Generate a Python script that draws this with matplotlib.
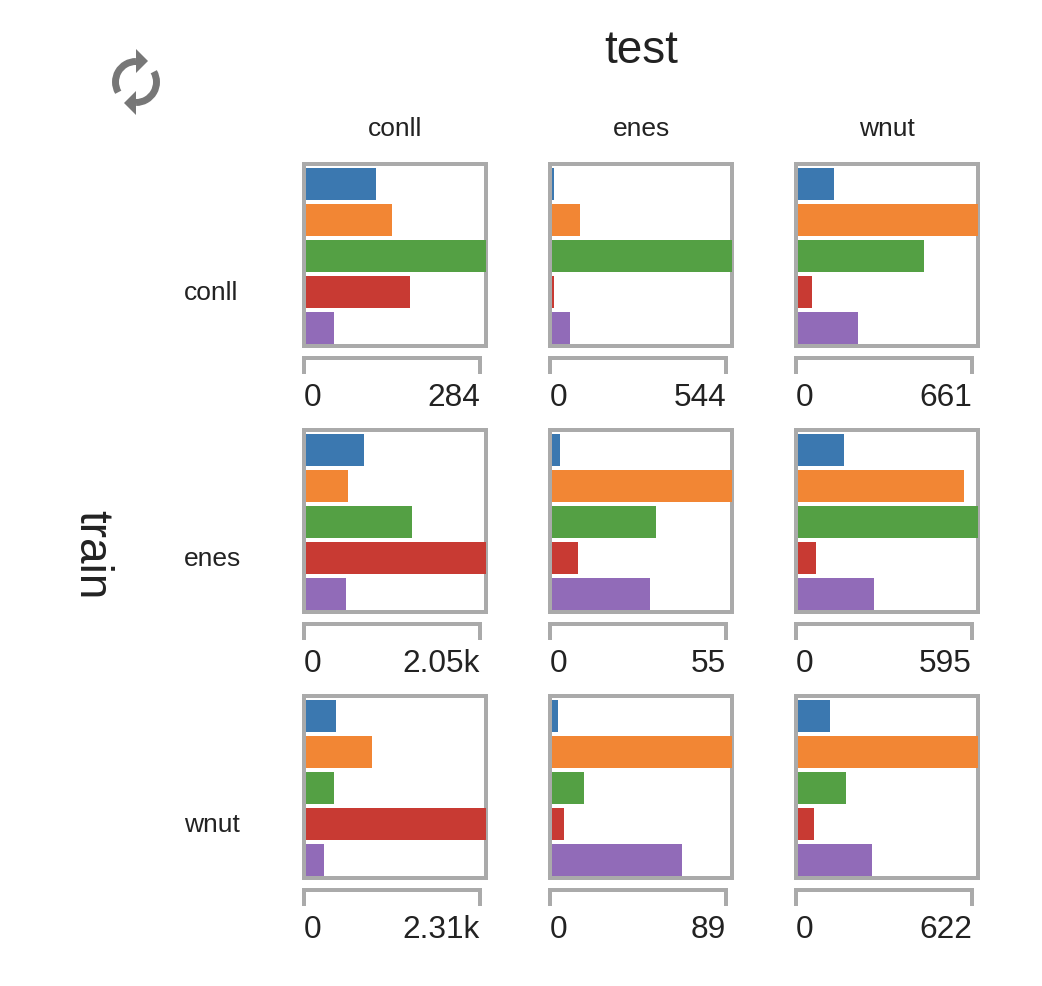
import matplotlib
matplotlib.use('Agg')
import matplotlib.pyplot as plt
from matplotlib.patches import Arc, Polygon

plt.rcParams['font.family'] = ['Liberation Sans', 'DejaVu Sans']

W, H = 1042, 986
TEXT = '#222222'
GRAY = '#aaaaaa'
ICON = '#777777'
COLORS = ['#3b78b0', '#f28634', '#54a044', '#c83a33', '#916bb8']

train_names = ['conll', 'enes', 'wnut']
test_names = ['conll', 'enes', 'wnut']

# rows = train, columns = test
conll_conll = [110, 136, 284, 164, 44]
conll_enes = [6, 85, 544, 6, 54]
conll_wnut = [132, 661, 463, 51, 220]
enes_conll = [661, 478, 1207, 2050, 456]
enes_enes = [2.4, 55, 31.8, 8, 30]
enes_wnut = [152, 549, 595, 60, 251]
wnut_conll = [385, 847, 359, 2310, 231]
wnut_enes = [3, 89, 16, 6, 64.3]
wnut_wnut = [111, 622, 166, 55, 256]

counts = [
    [conll_conll, conll_enes, conll_wnut],
    [enes_conll, enes_enes, enes_wnut],
    [wnut_conll, wnut_enes, wnut_wnut],
]
max_labels = [
    ['284', '544', '661'],
    ['2.05k', '55', '595'],
    ['2.31k', '89', '622'],
]


def px_axes(fig, x0, y0, x1, y1, **kwargs):
    # pixel box with y measured from the top of the image
    return fig.add_axes([x0 / W, 1 - y1 / H, (x1 - x0) / W, (y1 - y0) / H], **kwargs)


def px_text(fig, x, y, s, **kwargs):
    fig.text(x / W, 1 - y / H, s, color=TEXT, **kwargs)


fig = plt.figure(figsize=(W / 100, H / 100), dpi=100)

for r in range(3):
    for c in range(3):
        left = 304 + 246 * c
        top = 164 + 266 * r
        vals = counts[r][c]
        vmax = max(vals)

        ax = px_axes(fig, left, top, left + 182, top + 182)
        ax.barh(range(5), vals, height=32 / 36, color=COLORS, zorder=3)
        ax.set_xlim(-vmax * 2 / 180, vmax)
        ax.set_ylim(4.5, -20 / 36)
        ax.set_xticks([])
        ax.set_yticks([])
        for spine in ax.spines.values():
            spine.set_color(GRAY)
            spine.set_linewidth(2.88)

        # bracket axis under each panel
        br = px_axes(fig, left, top + 194, left + 176, top + 208)
        br.set_xlim(0, vmax)
        br.set_yticks([])
        br.set_xticks([0, vmax], ['0', max_labels[r][c]])
        br.tick_params(axis='x', length=0, pad=8, labelsize=22.8, labelcolor=TEXT)
        tick_labels = br.get_xticklabels()
        tick_labels[0].set_ha('left')
        tick_labels[1].set_ha('right')
        br.spines['bottom'].set_visible(False)
        for name in ['top', 'left', 'right']:
            br.spines[name].set_color(GRAY)
            br.spines[name].set_linewidth(2.88)

for c, name in enumerate(test_names):
    px_text(fig, 395 + 246 * c, 129, name, ha='center', va='center', fontsize=19)
for r, name in enumerate(train_names):
    px_text(fig, 184, 293 + 266 * r, name, ha='left', va='center', fontsize=19)

px_text(fig, 641, 51, 'test', ha='center', va='center', fontsize=33)
px_text(fig, 91, 555, 'train', ha='center', va='center', fontsize=33, rotation=-90)

# refresh icon in the corner
icon = fig.add_axes([0, 0, 1, 1], zorder=5)
icon.set_xlim(0, W)
icon.set_ylim(H, 0)
icon.axis('off')
icon.add_patch(Arc((136, 82), 41, 41, theta1=150, theta2=270, color=ICON, lw=5))
icon.add_patch(Arc((136, 82), 41, 41, theta1=-30, theta2=90, color=ICON, lw=5))
icon.add_patch(Polygon([(136, 49), (148, 61), (136, 73)], color=ICON, lw=0))
icon.add_patch(Polygon([(136, 115), (124, 103), (136, 91)], color=ICON, lw=0))

fig.savefig('out.png', dpi=100)
plt.close(fig)
